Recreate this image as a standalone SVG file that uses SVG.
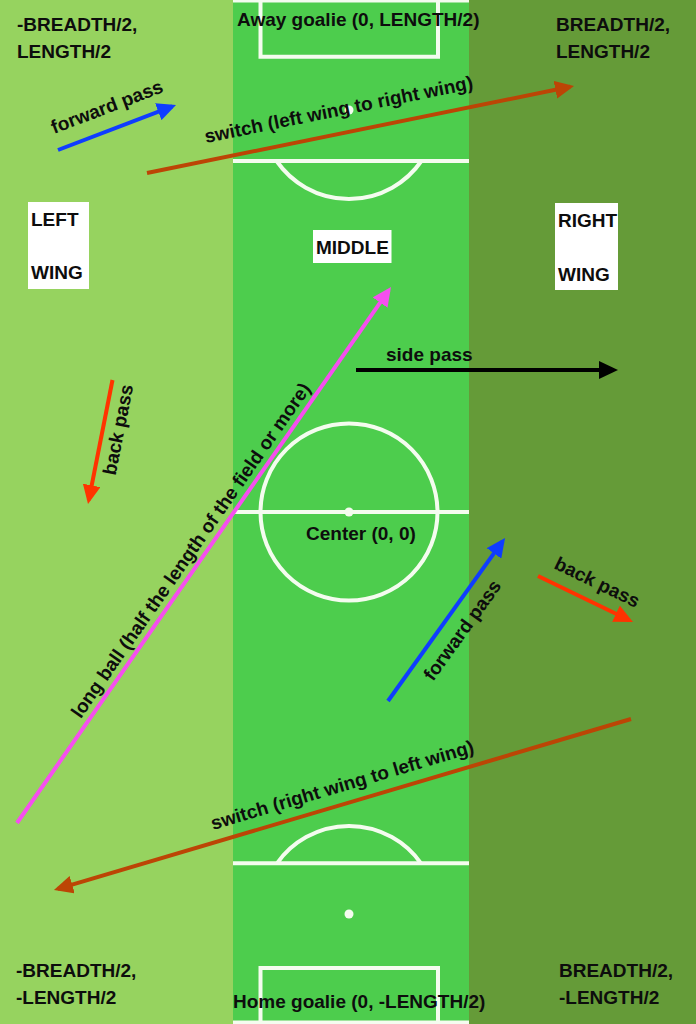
<svg xmlns="http://www.w3.org/2000/svg" width="696" height="1024" viewBox="0 0 696 1024">
  <style>
    .t { font-family: "Liberation Sans", Arial, sans-serif; font-weight: bold; font-size: 19px; fill: #0d0d0d; }
    .mark { fill: none; stroke: #F4FCEF; stroke-width: 4; }
    .spot { fill: #F4FCEF; }
    .box { fill: #FFFFFF; }
    .conn { fill: none; stroke-width: 4; stroke-linecap: butt; }
  </style>
  <defs>
    <marker id="ah-blue" viewBox="0 0 19 18" refX="15" refY="9" markerWidth="19" markerHeight="18" markerUnits="userSpaceOnUse" orient="auto"><path d="M0,0 L19,9 L0,18 z" fill="#0F3DFF"/></marker>
    <marker id="ah-brown" viewBox="0 0 19 18" refX="15" refY="9" markerWidth="19" markerHeight="18" markerUnits="userSpaceOnUse" orient="auto"><path d="M0,0 L19,9 L0,18 z" fill="#BC4505"/></marker>
    <marker id="ah-red" viewBox="0 0 19 18" refX="15" refY="9" markerWidth="19" markerHeight="18" markerUnits="userSpaceOnUse" orient="auto"><path d="M0,0 L19,9 L0,18 z" fill="#FF3300"/></marker>
    <marker id="ah-magenta" viewBox="0 0 19 18" refX="15" refY="9" markerWidth="19" markerHeight="18" markerUnits="userSpaceOnUse" orient="auto"><path d="M0,0 L19,9 L0,18 z" fill="#F64EEF"/></marker>
    <marker id="ah-black" viewBox="0 0 19 18" refX="15" refY="9" markerWidth="19" markerHeight="18" markerUnits="userSpaceOnUse" orient="auto"><path d="M0,0 L19,9 L0,18 z" fill="#000000"/></marker>
  </defs>

  <g id="field">
    <rect x="0" y="0" width="233" height="1024" fill="#96D35F"/>
    <rect x="233" y="0" width="236" height="1024" fill="#4DCD4D"/>
    <rect x="469" y="0" width="227" height="1024" fill="#659B38"/>
    <!-- markings -->
    <rect x="233" y="0" width="236" height="2.5" class="spot"/>
    <path class="mark" d="M260.5,0 V56.7 H438 V0"/>
    <line class="mark" x1="233" y1="161" x2="469" y2="161"/>
    <path class="mark" d="M276.6,161 A88,88 0 0 0 421.4,161"/>
    <circle class="spot" cx="349" cy="110" r="4.5"/>
    <line class="mark" x1="233" y1="512" x2="469" y2="512"/>
    <circle class="mark" cx="349" cy="512" r="88.5"/>
    <circle class="spot" cx="349" cy="512" r="4.5"/>
    <line class="mark" x1="233" y1="863.3" x2="469" y2="863.3"/>
    <path class="mark" d="M277,863.3 A88,88 0 0 1 421,863.3"/>
    <circle class="spot" cx="349" cy="914" r="4.5"/>
    <path class="mark" d="M260.5,1024 V968 H438 V1024"/>
    <rect x="233" y="1020.5" width="236" height="3.5" class="spot"/>
  </g>

  <g id="connectors">
    <line id="fwd-pass-left" class="conn" stroke="#0F3DFF" x1="58" y1="150" x2="172.3" y2="106.4" marker-end="url(#ah-blue)"/>
    <line id="switch-l2r" class="conn" stroke="#BC4505" stroke-width="4.5" x1="147" y1="173" x2="570.1" y2="86.8" marker-end="url(#ah-brown)"/>
    <line id="long-ball" class="conn" stroke="#F64EEF" x1="17" y1="823" x2="388.7" y2="290.3" marker-end="url(#ah-magenta)"/>
    <line id="back-pass-left" class="conn" stroke="#FF3300" x1="112.5" y1="380" x2="88.8" y2="500.1" marker-end="url(#ah-red)"/>
    <line id="side-pass" class="conn" stroke="#000000" x1="356" y1="370" x2="614" y2="370" marker-end="url(#ah-black)"/>
    <line id="fwd-pass-right" class="conn" stroke="#0F3DFF" x1="388" y1="701" x2="502.7" y2="541.2" marker-end="url(#ah-blue)"/>
    <line id="back-pass-right" class="conn" stroke="#FF3300" x1="538" y1="576" x2="629.4" y2="620.3" marker-end="url(#ah-red)"/>
    <line id="switch-r2l" class="conn" stroke="#BC4505" stroke-width="4.5" x1="631" y1="719" x2="57.8" y2="888.9" marker-end="url(#ah-brown)"/>
  </g>

  <g id="connector-labels">
    <text class="t" transform="translate(54,134) rotate(-20.9)">forward pass</text>
    <text class="t" transform="translate(206,143) rotate(-11.5)">switch (left wing to right wing)</text>
    <text class="t" transform="translate(80.7,719.3) rotate(-55.1)">long ball (half the length of the field or more)</text>
    <text class="t" transform="translate(115.5,476) rotate(-78.8)">back pass</text>
    <text class="t" x="386" y="361">side pass</text>
    <text class="t" transform="translate(433,682) rotate(-54.3)">forward pass</text>
    <text class="t" transform="translate(553,568) rotate(25.8)">back pass</text>
    <text class="t" transform="translate(213,830) rotate(-16.5)">switch (right wing to left wing)</text>
  </g>

  <g id="corner-top-left">
    <text class="t" x="17" y="31">-BREADTH/2,</text>
    <text class="t" x="17" y="58">LENGTH/2</text>
  </g>
  <g id="corner-top-right">
    <text class="t" x="556" y="31">BREADTH/2,</text>
    <text class="t" x="556" y="58">LENGTH/2</text>
  </g>
  <g id="corner-bottom-left">
    <text class="t" x="16" y="977">-BREADTH/2,</text>
    <text class="t" x="16" y="1004">-LENGTH/2</text>
  </g>
  <g id="corner-bottom-right">
    <text class="t" x="559" y="977">BREADTH/2,</text>
    <text class="t" x="559" y="1004">-LENGTH/2</text>
  </g>
  <g id="away-goalie">
    <text class="t" x="237" y="26">Away goalie (0, LENGTH/2)</text>
  </g>
  <g id="home-goalie">
    <text class="t" x="233" y="1008">Home goalie (0, -LENGTH/2)</text>
  </g>
  <g id="center">
    <text class="t" x="306" y="540">Center (0, 0)</text>
  </g>
  <g id="left-wing">
    <rect class="box" x="28" y="202" width="61" height="87"/>
    <text class="t" x="31" y="226">LEFT</text>
    <text class="t" x="31" y="279">WING</text>
  </g>
  <g id="middle">
    <rect class="box" x="313" y="230" width="78.5" height="33"/>
    <text class="t" x="316" y="254">MIDDLE</text>
  </g>
  <g id="right-wing">
    <rect class="box" x="555" y="203" width="63" height="87"/>
    <text class="t" x="558" y="227">RIGHT</text>
    <text class="t" x="558" y="281">WING</text>
  </g>
</svg>
